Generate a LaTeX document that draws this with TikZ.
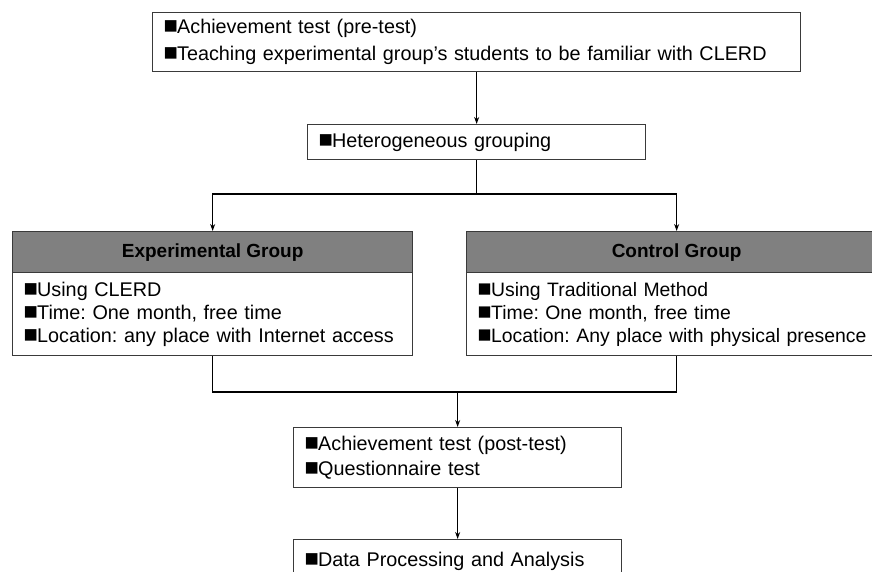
\documentclass[tikz,border=0pt]{standalone}
\usepackage{fontspec}
\setmainfont{Liberation Sans}
\newfontfamily\bulletfont[Scale=1.2]{Liberation Sans}
% square bullet set in a fixed-width slot
\newcommand\sqb{\makebox[13.5pt][l]{\bulletfont ■}}
\usetikzlibrary{arrows.meta}
\definecolor{edge}{HTML}{3A3A3A}
\definecolor{headfill}{HTML}{808080}
\begin{document}
\frenchspacing
\begin{tikzpicture}[x=1pt,y=-1pt,
  box/.style={draw=edge, line width=1.3pt, fill=white, anchor=north west,
    inner xsep=11pt, inner ysep=0pt, align=left},
  head/.style={draw=edge, line width=1.3pt, fill=headfill, anchor=north west,
    inner sep=0pt, minimum height=41pt, font=\bfseries\fontsize{19}{22}\selectfont},
  link/.style={line width=1.3pt, draw=black},
  arr/.style={link, -{Stealth[length=7pt,width=5pt]}}
]
\useasboundingbox (0,0) rectangle (872,572);

% pre-test stage
\node[box, text width=626pt, minimum height=59pt, font=\fontsize{19.8}{27}\selectfont]
  (pre) at (152,12)
  {\sqb Achievement test (pre-test)\\
   \sqb Teaching experimental group’s students to be familiar with CLERD};

\node[box, text width=316pt, minimum height=35pt, font=\fontsize{19.8}{24}\selectfont]
  (grp) at (307,124) {\sqb Heterogeneous grouping};

% the two groups
\node[box, text width=378pt, minimum height=83pt, font=\fontsize{19.8}{23}\selectfont]
  (expB) at (12,272)
  {\sqb Using CLERD\\
   \sqb Time: One month, free time\\
   \sqb Location: any place with Internet access};
\node[head, minimum width=400pt] (expH) at (12,231) {Experimental Group};

% the right edge of this box lies past the page edge
\node[box, text width=410pt, minimum height=83pt, font=\fontsize{19.4}{23}\selectfont]
  (ctlB) at (466,272)
  {\sqb Using Traditional Method\\
   \sqb Time: One month, free time\\
   \sqb Location: Any place with physical presence};
\node[head, minimum width=420pt] (ctlH) at (466,231) {Control Group};

% post-test and analysis
\node[box, text width=306pt, minimum height=60pt, font=\fontsize{19.8}{25}\selectfont]
  (post) at (293,427)
  {\sqb Achievement test (post-test)\\
   \sqb Questionnaire test};

\node[box, text width=306pt, minimum height=44pt, font=\fontsize{19.8}{24}\selectfont]
  (data) at (293,539) {\sqb Data Processing and Analysis};

% connectors
\coordinate (split) at (grp.south |- 0,194);
\coordinate (merge) at (post.north |- 0,392);

\draw[arr] (pre.south) -- (grp.north);
\draw[link] (grp.south) -- (split);
\draw[arr] (split) -| (expH.north);
\draw[arr] (split) -| (ctlH.north);
\draw[link] (expB.south) |- (merge);
\draw[link] (ctlH.south |- ctlB.south) |- (merge);
\draw[arr] (merge) -- (post.north);
\draw[arr] (post.south) -- (data.north);
\end{tikzpicture}
\end{document}
